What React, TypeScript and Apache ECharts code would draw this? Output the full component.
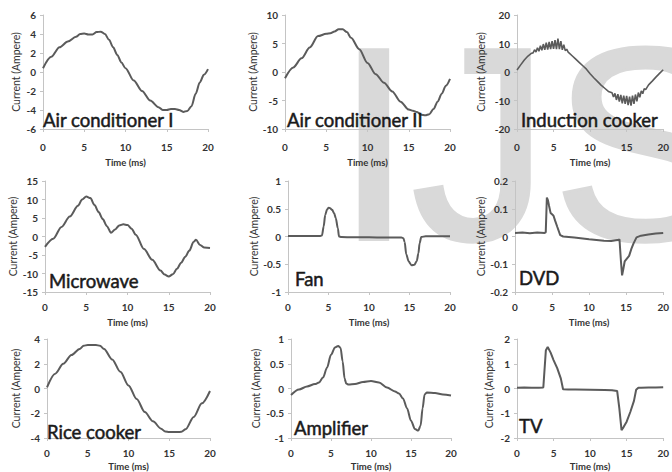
import React, { useEffect, useRef } from "react";
import * as echarts from "echarts";

// ---------- data ----------
const timeTicks = [0, 5, 10, 15, 20];

const ac1Time = [0, 1, 2, 3, 4, 4.5, 5, 5.5, 6, 6.5, 7, 7.5, 8, 8.5, 9, 9.5, 10, 11, 12, 13, 14, 14.5, 15, 15.5, 16, 16.5, 17, 17.5, 18, 18.5, 19, 19.5, 20];
const ac1Current = [0.4, 1.6, 2.6, 3.2, 3.7, 4.0, 4.05, 3.95, 3.95, 4.2, 4.25, 4.0, 3.4, 2.6, 1.8, 1.0, 0.4, -0.9, -2.0, -3.0, -3.7, -4.0, -4.0, -3.9, -3.9, -4.0, -4.2, -4.1, -3.6, -2.3, -1.1, -0.3, 0.3];

const ac2Time = [0, 1, 2, 3, 4, 5, 5.5, 6, 6.5, 7, 7.5, 8, 9, 10, 11, 12, 13, 14, 15, 15.5, 16, 16.5, 17, 17.5, 18, 18.5, 19, 19.5, 20];
const ac2Current = [-1.1, 0.8, 2.4, 4.3, 6.3, 6.7, 6.8, 7.1, 7.5, 7.5, 7.0, 6.0, 4.0, 1.6, -0.4, -1.9, -3.4, -5.2, -6.6, -6.8, -7.0, -7.5, -7.6, -7.4, -6.5, -5.2, -3.8, -2.4, -1.2];

const inductionTime = [0, 0.5, 1, 1.5, 2, 2.2, 2.4, 2.6, 2.8, 3.0, 3.2, 3.4, 3.6, 3.8, 4.0, 4.2, 4.4, 4.6, 4.8, 5.0, 5.2, 5.4, 5.6, 5.8, 6.0, 6.2, 6.4, 6.6, 6.8, 7.0, 7.5, 8, 8.5, 9, 9.5, 10, 10.5, 11, 11.5, 12, 12.5, 13.0, 13.2, 13.4, 13.6, 13.8, 14.0, 14.2, 14.4, 14.6, 14.8, 15.0, 15.2, 15.4, 15.6, 15.8, 16.0, 16.2, 16.4, 16.6, 16.8, 17.0, 17.2, 17.4, 17.6, 18, 18.5, 19, 19.5, 20];
const inductionCurrent = [0.7, 2.5, 4.2, 5.6, 6.6, 6.7, 7.8, 7.0, 8.5, 7.3, 9.2, 7.6, 9.8, 7.8, 10.3, 7.9, 10.6, 8.0, 10.8, 8.1, 11.2, 8.0, 11.7, 8.0, 10.8, 7.8, 9.6, 7.5, 8.0, 7.0, 5.8, 4.6, 3.4, 2.2, 1.0, -0.6, -2.0, -3.3, -4.6, -5.7, -6.8, -7.3, -8.8, -7.5, -9.8, -7.8, -10.4, -8.0, -11.0, -8.3, -11.2, -8.4, -11.6, -8.6, -11.8, -8.3, -11.2, -7.9, -10.3, -7.2, -8.9, -6.6, -7.6, -5.9, -6.2, -4.5, -3.2, -1.8, -0.5, 0.8];

const microwaveTime = [0, 1, 2, 3, 4, 4.5, 5, 5.5, 6, 6.5, 7, 7.5, 8, 8.5, 9, 9.5, 10, 10.5, 11, 12, 13, 14, 14.5, 15, 15.5, 16, 16.5, 17, 17.5, 18, 18.3, 18.8, 19.3, 20];
const microwaveCurrent = [-2.8, -0.6, 2.6, 5.4, 8.3, 10.0, 10.8, 10.4, 8.5, 6.6, 4.7, 2.8, 1.0, 1.9, 3.0, 3.3, 3.1, 2.1, 0.5, -3.4, -6.3, -9.2, -10.3, -10.8, -10.2, -8.7, -7.1, -5.5, -3.8, -1.5, -0.9, -2.3, -3.0, -3.1];

const fanTime = [0, 1, 2, 3, 4, 4.2, 4.4, 4.6, 4.8, 5.0, 5.2, 5.45, 5.7, 5.9, 6.15, 6.3, 6.6, 8, 10, 12, 14, 14.25, 14.4, 14.6, 14.9, 15.25, 15.6, 15.9, 16.1, 16.25, 16.45, 17, 18, 19, 20];
const fanCurrent = [0.01, 0.01, 0.01, 0.01, 0.01, 0.02, 0.18, 0.39, 0.48, 0.52, 0.51, 0.48, 0.42, 0.33, 0.15, 0.0, -0.01, -0.015, -0.015, -0.02, -0.02, -0.03, -0.1, -0.32, -0.45, -0.52, -0.51, -0.44, -0.3, -0.12, -0.01, 0.005, 0.005, 0.005, 0.005];

const dvdTime = [0, 1, 2, 3, 4, 4.15, 4.3, 4.45, 4.6, 4.8, 5.0, 5.2, 5.4, 5.7, 6.1, 6.5, 8, 10, 12, 13, 14, 14.1, 14.3, 14.45, 14.6, 14.8, 15.1, 15.4, 15.7, 16.0, 16.4, 17, 18, 19, 20];
const dvdCurrent = [0.013, 0.014, 0.012, 0.014, 0.013, 0.015, 0.14, 0.13, 0.11, 0.085, 0.08, 0.075, 0.058, 0.035, 0.005, 0.0, -0.004, -0.01, -0.015, -0.016, -0.012, -0.01, -0.09, -0.14, -0.12, -0.09, -0.08, -0.07, -0.045, -0.025, -0.003, 0.003, 0.007, 0.011, 0.013];

const riceTime = [0, 1, 2, 3, 4, 4.5, 5, 5.5, 6, 6.5, 7, 8, 9, 10, 11, 12, 13, 14, 14.5, 15, 15.5, 16, 16.5, 17, 18, 19, 20];
const riceCurrent = [0.1, 1.2, 2.0, 2.7, 3.2, 3.45, 3.52, 3.52, 3.52, 3.45, 3.2, 2.35, 1.35, 0.25, -0.85, -1.9, -2.65, -3.25, -3.48, -3.52, -3.52, -3.52, -3.5, -3.3, -2.3, -1.2, -0.2];

const ampTime = [0, 1, 2, 3, 3.5, 4, 4.5, 5, 5.5, 5.9, 6.2, 6.45, 6.7, 6.9, 7.2, 8, 9, 10, 11, 12, 13, 13.5, 14, 14.5, 15, 15.5, 15.9, 16.2, 16.45, 16.7, 17, 18, 19, 20];
const ampCurrent = [-0.13, -0.02, 0.04, 0.09, 0.12, 0.22, 0.42, 0.68, 0.83, 0.86, 0.82, 0.55, 0.2, 0.1, 0.08, 0.09, 0.13, 0.15, 0.12, 0.02, -0.06, -0.1, -0.2, -0.4, -0.65, -0.82, -0.85, -0.75, -0.4, -0.12, -0.08, -0.09, -0.12, -0.14];

const tvTime = [0, 1, 2, 3, 3.6, 3.95, 4.2, 4.6, 5.0, 5.5, 6.0, 6.3, 7, 8, 10, 12, 13, 13.7, 14.0, 14.3, 14.6, 15.0, 15.5, 16.0, 16.3, 16.6, 17, 18, 19, 20];
const tvCurrent = [0.03, 0.04, 0.03, 0.03, 0.04, 1.55, 1.68, 1.45, 1.15, 0.82, 0.4, -0.03, -0.04, -0.04, -0.05, -0.06, -0.07, -0.1, -0.8, -1.68, -1.55, -1.34, -0.95, -0.5, -0.05, 0.03, 0.03, 0.04, 0.04, 0.05];

const deviceNames = ["Air conditioner I", "Air conditioner II", "Induction cooker", "Microwave", "Fan", "DVD", "Rice cooker", "Amplifier", "TV"];
const yMins = [-6, -10, -20, -15, -1, -0.2, -4, -1, -2];
const yMaxs = [6, 10, 20, 15, 1, 0.2, 4, 1, 2];
const yIntervals = [2, 5, 10, 5, 0.5, 0.1, 2, 0.5, 1];
const watermarkLetters = ["I", "J", "S"];

const seriesTimes = [ac1Time, ac2Time, inductionTime, microwaveTime, fanTime, dvdTime, riceTime, ampTime, tvTime];
const seriesCurrents = [ac1Current, ac2Current, inductionCurrent, microwaveCurrent, fanCurrent, dvdCurrent, riceCurrent, ampCurrent, tvCurrent];

// ---------- layout / style ----------
const layout = [
  { left: 43, top: 15, width: 165, height: 114, yGap: 22, xMargin: 13, xGap: 28, lx: 43, ly: 120, smooth: true },
  { left: 285, top: 15, width: 165, height: 114, yGap: 24, xMargin: 13, xGap: 28, lx: 287, ly: 120, smooth: true },
  { left: 517, top: 15, width: 155, height: 114, yGap: 31, xMargin: 13, xGap: 28, lx: 521, ly: 120, smooth: false },
  { left: 45, top: 181, width: 165, height: 111, yGap: 24, xMargin: 10, xGap: 25, lx: 49, ly: 281, smooth: true },
  { left: 288, top: 181, width: 162, height: 111, yGap: 27, xMargin: 10, xGap: 25, lx: 295, ly: 279, smooth: true },
  { left: 515, top: 181, width: 149, height: 111, yGap: 28, xMargin: 10, xGap: 25, lx: 519, ly: 278, smooth: false },
  { left: 47, top: 339, width: 163, height: 99, yGap: 26, xMargin: 10, xGap: 23, lx: 47, ly: 432, smooth: true },
  { left: 291, top: 339, width: 160, height: 99, yGap: 30, xMargin: 10, xGap: 23, lx: 294, ly: 428, smooth: true },
  { left: 517, top: 339, width: 153, height: 99, yGap: 23, xMargin: 10, xGap: 23, lx: 519, ly: 426, smooth: false },
];
const watermarkPos = [336, 412, 553];

const AXIS = "#c4c4c4";
const LINE = "#5b5b5b";
const FONT = "Lato";

export default function App() {
  const ref = useRef<HTMLDivElement>(null);
  useEffect(() => {
    document.body.style.margin = "0";
    if (!ref.current) return;
    const chart = echarts.init(ref.current, undefined, { renderer: "svg" });

    const grid = layout.map((l) => ({ left: l.left, top: l.top, width: l.width, height: l.height }));
    const xAxis = layout.map((l, i) => ({
      type: "value",
      gridIndex: i,
      min: timeTicks[0],
      max: timeTicks[timeTicks.length - 1],
      interval: timeTicks[1] - timeTicks[0],
      axisLine: { show: true, onZero: false, lineStyle: { color: AXIS, width: 1 } },
      axisTick: { show: true, length: 3, lineStyle: { color: AXIS } },
      splitLine: { show: false },
      axisLabel: { fontFamily: FONT, fontWeight: "bold", fontSize: 10, color: "#333", margin: l.xMargin },
      name: "Time (ms)",
      nameLocation: "middle",
      nameGap: l.xGap,
      nameTextStyle: { fontFamily: FONT, fontWeight: "bold", fontSize: 9.5, color: "#333" },
    }));
    const yAxis = layout.map((l, i) => ({
      type: "value",
      gridIndex: i,
      min: yMins[i],
      max: yMaxs[i],
      interval: yIntervals[i],
      axisLine: { show: true, lineStyle: { color: AXIS, width: 1 } },
      axisTick: { show: true, length: 3, lineStyle: { color: AXIS } },
      splitLine: { show: false },
      axisLabel: { fontFamily: FONT, fontWeight: "bold", fontSize: 10, color: "#333", margin: 7 },
      name: "Current (Ampere)",
      nameLocation: "middle",
      nameRotate: 90,
      nameGap: l.yGap,
      nameTextStyle: { fontFamily: FONT, fontSize: 10.5, color: "#333" },
    }));
    const series = layout.map((l, i) => ({
      type: "line",
      xAxisIndex: i,
      yAxisIndex: i,
      data: seriesTimes[i].map((t, k) => [t, seriesCurrents[i][k]]),
      showSymbol: false,
      smooth: l.smooth ? 0.3 : false,
      smoothMonotone: "x",
      lineStyle: { color: LINE, width: i === 2 ? 1.6 : 2 },
      z: 5,
    }));

    const graphic: any[] = [];
    watermarkLetters.forEach((ch, k) => {
      graphic.push({
        type: "text",
        x: watermarkPos[k],
        y: 144,
        z: -10,
        silent: true,
        style: {
          text: ch,
          fontFamily: "Liberation Sans",
          fontSize: 273,
          fill: "#d9d9d9",
          stroke: "#d9d9d9",
          lineWidth: 5,
          align: "left",
          verticalAlign: "middle",
        },
      });
    });
    deviceNames.forEach((name, i) => {
      graphic.push({
        type: "text",
        x: layout[i].lx,
        y: layout[i].ly,
        z: 20,
        style: {
          text: name,
          fontFamily: FONT,
          fontSize: 18.5,
          fill: "#1a1a1a",
          stroke: "#1a1a1a",
          lineWidth: 0.5,
          align: "left",
          verticalAlign: "middle",
        },
      });
    });

    chart.setOption({
      animation: false,
      backgroundColor: "#ffffff",
      grid,
      xAxis,
      yAxis,
      series,
      graphic,
    });
    return () => chart.dispose();
  }, []);
  return <div ref={ref} style={{ width: 672, height: 472 }} />;
}
